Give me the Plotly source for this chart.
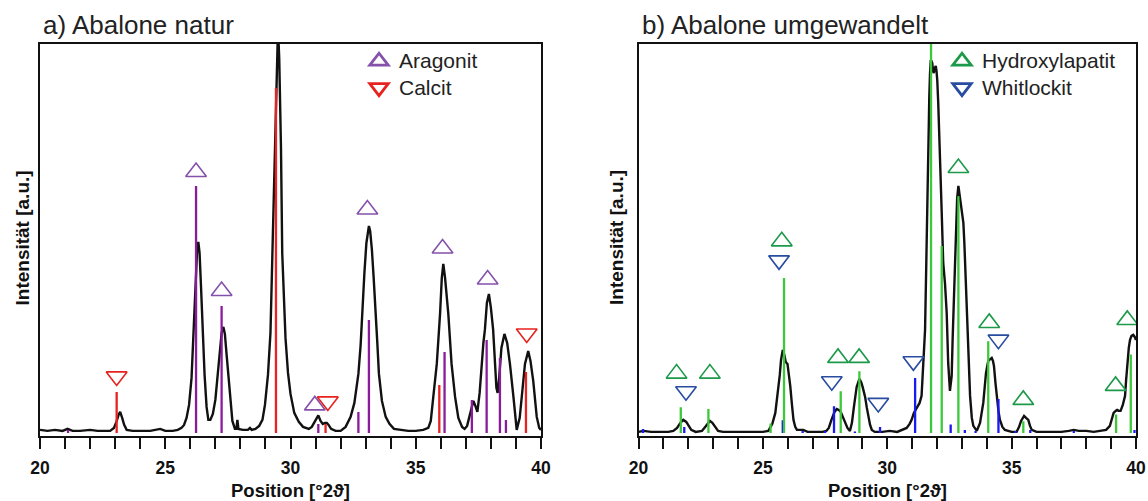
import plotly.graph_objects as go

# ---------------- data: panel a (Abalone natur) ----------------
a_pos = [20.0, 20.3, 20.6, 20.9, 21.1, 21.3, 21.6, 22.0, 22.3, 22.6, 22.8, 22.95,
         23.05, 23.15, 23.2, 23.28, 23.36, 23.46, 23.7, 24.0, 24.4, 24.8, 25.0, 25.3,
         25.5, 25.65, 25.75, 25.85, 25.95, 26.05, 26.12, 26.2, 26.27, 26.32, 26.37, 26.43,
         26.5, 26.57, 26.65, 26.72, 26.8, 26.9, 27.0, 27.1, 27.18, 27.25, 27.32, 27.38,
         27.45, 27.52, 27.6, 27.68, 27.78, 27.84, 27.88, 27.92, 28.1, 28.3, 28.38, 28.45,
         28.6, 28.75, 28.88, 28.98, 29.1, 29.2, 29.29, 29.38, 29.45, 29.5, 29.55, 29.62,
         29.67, 29.74, 29.8, 29.9, 30.0, 30.15, 30.33, 30.5, 30.73, 30.85, 30.95, 31.05,
         31.11, 31.2, 31.29, 31.38, 31.45, 31.52, 31.62, 31.8, 32.0, 32.2, 32.4, 32.55,
         32.71, 32.8, 32.87, 32.95, 33.03, 33.1, 33.13, 33.18, 33.25, 33.32, 33.4, 33.47,
         33.53, 33.65, 33.8, 33.95, 34.13, 34.4, 34.7, 35.0, 35.3, 35.5, 35.6, 35.7,
         35.84, 35.97, 36.04, 36.1, 36.17, 36.3, 36.43, 36.57, 36.7, 36.85, 36.95, 37.05,
         37.15, 37.3, 37.38, 37.46, 37.55, 37.63, 37.7, 37.76, 37.84, 37.92, 38.0, 38.09,
         38.16, 38.22, 38.27, 38.33, 38.42, 38.54, 38.65, 38.76, 38.9, 38.97, 39.03, 39.15,
         39.23, 39.36, 39.49, 39.58, 39.69, 39.83, 39.93, 40.0]
a_int = [3, 2, 3, 2, 4, 2, 2, 3, 2, 2, 2, 5,
         11, 19, 21, 15, 8, 3, 2, 2, 2, 4, 2, 2,
         3, 5, 8, 15, 28, 55, 92, 148, 182, 191, 180, 145,
         100, 58, 26, 13, 13, 19, 33, 57, 82, 100, 106, 99,
         78, 57, 30, 12, 4, 4, 13, 4, 3, 3, 5, 3,
         4, 7, 13, 28, 58, 100, 192, 290, 365, 405, 375, 285,
         180, 130, 95, 60, 39, 20, 11, 6, 4, 6, 11, 16,
         17.5, 12, 9, 10, 10, 8, 4, 2, 2, 6, 16, 30,
         59, 88, 125, 160, 190, 205, 207, 202, 183, 155, 125, 88,
         59, 32, 16, 9, 4, 3, 2, 2, 3, 5, 12, 36,
         69, 119, 155, 169, 155, 119, 69, 36, 15, 6, 4, 7,
         18, 32, 27, 21, 40, 69, 90, 103, 130, 139, 125, 103,
         69, 45, 40, 55, 85, 99, 90, 69, 36, 15, 3, 15,
         36, 69, 82, 72, 52, 16, 5, 3]

arag_x = [21.12, 26.23, 27.25, 31.11, 32.71, 33.13, 36.15, 37.24, 37.83, 38.36, 38.6]
arag_h = [3, 247, 127, 9, 21, 113, 81, 33, 93, 75, 13]
calc_x = [23.06, 29.42, 31.4, 35.94, 39.4]
calc_h = [41, 345, 9, 48, 61]

arag_mark_x = [26.23, 27.25, 30.97, 33.07, 36.07, 37.87]
arag_mark_h = [261, 142, 27.5, 223.5, 184.5, 153.5]
calc_mark_x = [23.06, 31.49, 39.43]
calc_mark_h = [56.5, 31.5, 99.5]

# ---------------- data: panel b (Abalone umgewandelt) ----------------
b_pos = [20.0, 20.2, 20.5, 20.9, 21.2, 21.4, 21.55, 21.68, 21.8, 21.92, 22.02, 22.12,
         22.3, 22.55, 22.68, 22.8, 22.87, 22.97, 23.07, 23.2, 23.4, 23.8, 24.2, 24.6,
         25.0, 25.22, 25.38, 25.5, 25.6, 25.68, 25.73, 25.8, 25.86, 25.92, 25.99, 26.05,
         26.1, 26.17, 26.23, 26.3, 26.37, 26.5, 26.62, 26.8, 27.1, 27.4, 27.55, 27.65,
         27.77, 27.88, 27.97, 28.05, 28.13, 28.22, 28.3, 28.4, 28.5, 28.58, 28.66, 28.77,
         28.88, 28.95, 29.01, 29.11, 29.18, 29.24, 29.31, 29.38, 29.5, 29.8, 30.1, 30.4,
         30.6, 30.78, 30.9, 30.98, 31.07, 31.19, 31.3, 31.38, 31.45, 31.52, 31.57, 31.61,
         31.65, 31.69, 31.72, 31.75, 31.78, 31.81, 31.84, 31.87, 31.91, 31.95, 31.98, 32.01,
         32.05, 32.09, 32.14, 32.19, 32.25, 32.32, 32.39, 32.45, 32.52, 32.59, 32.63, 32.68,
         32.72, 32.76, 32.81, 32.86, 32.9, 32.95, 33.0, 33.06, 33.1, 33.13, 33.18, 33.22,
         33.28, 33.33, 33.4, 33.46, 33.6, 33.73, 33.86, 33.97, 34.06, 34.13, 34.2, 34.25,
         34.29, 34.35, 34.4, 34.47, 34.53, 34.63, 34.73, 35.0, 35.2, 35.3, 35.38, 35.45,
         35.5, 35.58, 35.67, 35.74, 35.81, 36.0, 36.5, 37.0, 37.3, 37.5, 37.7, 38.0,
         38.3, 38.6, 38.8, 38.95, 39.04, 39.1, 39.18, 39.24, 39.31, 39.38, 39.47, 39.56,
         39.6, 39.65, 39.71, 39.76, 39.82, 39.89, 39.95, 40.0]
b_int = [1, 2, 1, 1, 1, 2, 5, 10, 13, 11, 7, 3,
         1, 2, 6, 10, 12, 10, 6, 2, 1, 1, 1, 1,
         1, 2, 9, 20, 39, 58, 73, 83, 78, 71, 69, 58,
         47, 28, 13, 6, 3, 3, 3, 1, 1, 1, 2, 5,
         14, 21, 24, 23, 21, 16, 11, 5, 2, 10, 26, 46,
         54, 51, 46, 36, 25, 16, 8, 3, 1, 1, 2, 1,
         3, 5, 9, 13, 20, 25, 30, 37, 65, 103, 170, 237,
         290, 336, 360, 373, 372, 370, 362, 360, 365, 367, 362, 353,
         330, 303, 260, 220, 170, 150, 120, 70, 42, 57, 95, 137,
         170, 203, 235, 247, 240, 233, 222, 210, 190, 170, 135, 103,
         65, 37, 15, 7, 2, 10, 30, 60, 72, 74, 75, 72,
         67, 50, 37, 22, 13, 6, 3, 1, 1, 6, 12, 15,
         17, 15, 13, 7, 3, 1, 1, 1, 2, 3, 2, 2,
         1, 2, 3, 7, 15, 20, 22, 23, 22, 22, 28, 37,
         52, 70, 85, 93, 97, 98, 96, 93]

hap_x = [21.70, 22.81, 25.31, 25.85, 28.13, 28.88, 31.76, 32.19, 32.86, 34.06, 35.47, 39.2, 39.79]
hap_h = [25.6, 24, 9.3, 155, 41.6, 61.6, 400, 187, 236.6, 91.6, 11.6, 18.3, 78.3]
whit_x = [20.18, 21.84, 25.80, 26.6, 27.5, 27.86, 28.7, 29.71, 31.12, 32.55, 33.12, 33.55,
          34.47, 35.15, 35.75, 37.5, 39.94]
whit_h = [4, 6, 12.6, 2, 2, 26.6, 1.5, 6, 55, 8.3, 3, 2, 34, 2, 3, 2, 3]

hap_mark_x = [21.53, 22.87, 25.76, 28.02, 28.87, 32.86, 34.1, 35.47, 39.18, 39.65]
hap_mark_h = [59.3, 59.3, 191.6, 75, 75, 265, 110, 33, 47, 113]
whit_mark_x = [21.91, 25.65, 27.77, 29.64, 31.05, 34.47]
whit_mark_h = [41.6, 172.6, 51.6, 30, 71.6, 93.3]

tick_vals = list(range(20, 41))
tick_text = [str(v) if v % 5 == 0 else "" for v in tick_vals]

titles = ["a) Abalone natur", "b) Abalone umgewandelt"]
x_title = "Position [°2ϑ]"
y_title = "Intensität [a.u.]"

# ---------------- styling ----------------
FONT = "Liberation Sans, Arial, Helvetica, sans-serif"
PURPLE_STICK = "#8a1c9c"
PURPLE_MARK = "#8452aa"
RED = "#e6231f"
GREEN_STICK = "#3cc83a"
GREEN_MARK = "#1c9a4a"
BLUE_STICK = "#1a1af0"
BLUE_MARK = "#284ca0"


def sticks(xs, hs):
    sx, sy = [], []
    for x, h in zip(xs, hs):
        sx += [x, x, None]
        sy += [0, h, None]
    return sx, sy


fig = go.Figure()


def add_panel(xa, ya, pos, inten, s1, s2, m1, m2, legend):
    (x1, h1, c1s, c1m, n1, sym1) = s1
    (x2, h2, c2s, c2m, n2, sym2) = s2
    fig.add_trace(go.Scatter(x=pos, y=inten, mode="lines",
                             line=dict(color="#111111", width=2.4),
                             xaxis=xa, yaxis=ya, showlegend=False, hoverinfo="skip"))
    for xs, hs, col in [(x2, h2, c2s), (x1, h1, c1s)]:
        sx, sy = sticks(xs, hs)
        fig.add_trace(go.Scatter(x=sx, y=sy, mode="lines",
                                 line=dict(color=col, width=2.3),
                                 xaxis=xa, yaxis=ya, showlegend=False, hoverinfo="skip"))
    for (mx, mh), col, sym in [(m1, c1m, sym1), (m2, c2m, sym2)]:
        fig.add_trace(go.Scatter(x=mx, y=mh, mode="markers",
                                 marker=dict(symbol=sym, size=18, color=col,
                                             line=dict(color=col, width=1.6)),
                                 xaxis=xa, yaxis=ya, showlegend=False, hoverinfo="skip"))
    # legend-only entries
    for name, col, sym in [(n1, c1m, sym1), (n2, c2m, sym2)]:
        fig.add_trace(go.Scatter(x=[None], y=[None], mode="markers",
                                 name='<span style="font-size:21px">%s</span>' % name,
                                 marker=dict(symbol=sym, size=16, color=col,
                                             line=dict(color=col, width=2.8)),
                                 xaxis=xa, yaxis=ya, legend=legend))


add_panel("x", "y", a_pos, a_int,
          (arag_x, arag_h, PURPLE_STICK, PURPLE_MARK, "Aragonit", "triangle-up-open"),
          (calc_x, calc_h, RED, RED, "Calcit", "triangle-down-open"),
          (arag_mark_x, arag_mark_h), (calc_mark_x, calc_mark_h), "legend")
add_panel("x2", "y2", b_pos, b_int,
          (hap_x, hap_h, GREEN_STICK, GREEN_MARK, "Hydroxylapatit", "triangle-up-open"),
          (whit_x, whit_h, BLUE_STICK, BLUE_MARK, "Whitlockit", "triangle-down-open"),
          (hap_mark_x, hap_mark_h), (whit_mark_x, whit_mark_h), "legend2")

W, H = 1148, 501
ydom = [1 - 435.5 / H, 1 - 43.5 / H]
xdom_a = [40 / W, 541 / W]
xdom_b = [638.5 / W, 1136 / W]

xaxis_common = dict(range=[20, 40], tickmode="array", tickvals=tick_vals, ticktext=tick_text,
                    ticks="outside", ticklen=11, tickwidth=1.8, tickcolor="#111",
                    showline=True, linewidth=2, linecolor="#111", mirror=True,
                    showgrid=False, zeroline=False, ticklabelstandoff=4, automargin=False,
                    tickfont=dict(family=FONT, size=17.5, color="#111", weight="bold"))
yaxis_common = dict(range=[-2.6, 389.5], showticklabels=False, ticks="",
                    showline=True, linewidth=2, linecolor="#111", mirror=True,
                    showgrid=False, zeroline=False, domain=ydom, automargin=False)

leg_common = dict(xanchor="left", yanchor="top", bgcolor="rgba(0,0,0,0)",
                  font=dict(family=FONT, size=18, color="#222"),
                  itemclick=False, itemdoubleclick=False, tracegroupgap=0)

fig.update_layout(
    width=W, height=H, margin=dict(l=0, r=0, t=0, b=0, autoexpand=False),
    paper_bgcolor="white", plot_bgcolor="white",
    font=dict(family=FONT, color="#111"),
    xaxis=dict(domain=xdom_a, anchor="y", **xaxis_common),
    yaxis=dict(anchor="x", **yaxis_common),
    xaxis2=dict(domain=xdom_b, anchor="y2", **xaxis_common),
    yaxis2=dict(anchor="x2", **yaxis_common),
    legend=dict(x=359 / W, y=1 - 43 / H, **leg_common),
    legend2=dict(x=942 / W, y=1 - 43 / H, **leg_common),
)

ann = []
for title, xl in zip(titles, [41, 640]):
    ann.append(dict(text=title, x=xl / W, y=1 - 25 / H, xref="paper", yref="paper",
                    xanchor="left", yanchor="middle", showarrow=False,
                    font=dict(family=FONT, size=26, color="#222")))
for xc in [290.5, 887]:
    ann.append(dict(text=x_title, x=xc / W, y=1 - 490 / H, xref="paper", yref="paper",
                    xanchor="center", yanchor="middle", showarrow=False,
                    font=dict(family=FONT, size=18.5, color="#111", weight="bold")))
for xc in [21.5, 616]:
    ann.append(dict(text=y_title, x=xc / W, y=1 - 238 / H, xref="paper", yref="paper",
                    xanchor="center", yanchor="middle", showarrow=False, textangle=-90,
                    font=dict(family=FONT, size=19, color="#111", weight="bold")))
fig.update_layout(annotations=ann)

fig.write_html("out.html", config={"displayModeBar": False},
               post_script="document.body.style.margin='0';document.body.style.overflow='hidden';")
